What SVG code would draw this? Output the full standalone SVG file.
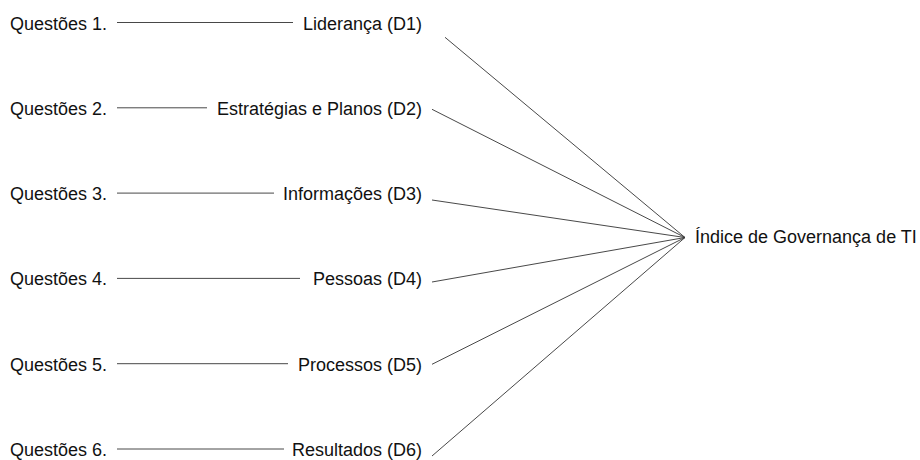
<svg xmlns="http://www.w3.org/2000/svg" width="920" height="460" viewBox="0 0 920 460">
<style>
text{font-family:"Liberation Sans",Arial,sans-serif;font-size:18px;fill:#111}
.l{text-anchor:end}
.c line{stroke:#333;stroke-width:0.9;fill:none}
</style>
<rect width="920" height="460" fill="#fff"/>
<g id="q1"><text x="10" y="29.5">Questões 1.</text></g>
<g id="q2"><text x="10" y="114.8">Questões 2.</text></g>
<g id="q3"><text x="10" y="200.1">Questões 3.</text></g>
<g id="q4"><text x="10" y="285.4">Questões 4.</text></g>
<g id="q5"><text x="10" y="370.7">Questões 5.</text></g>
<g id="q6"><text x="10" y="456">Questões 6.</text></g>
<g id="d1"><text class="l" x="422" y="29.5">Liderança (D1)</text></g>
<g id="d2"><text class="l" x="422" y="114.8">Estratégias e Planos (D2)</text></g>
<g id="d3"><text class="l" x="422" y="200.1">Informações (D3)</text></g>
<g id="d4"><text class="l" x="422" y="285.4">Pessoas (D4)</text></g>
<g id="d5"><text class="l" x="422" y="370.7">Processos (D5)</text></g>
<g id="d6"><text class="l" x="422" y="456">Resultados (D6)</text></g>
<g id="igti"><text x="695" y="243">Índice de Governança de TI</text></g>
<g class="c" id="connectors">
<line x1="117" y1="22.5" x2="293" y2="22.5"/>
<line x1="117" y1="107.8" x2="207" y2="107.8"/>
<line x1="117" y1="193.1" x2="274" y2="193.1"/>
<line x1="117" y1="278.4" x2="300" y2="278.4"/>
<line x1="117" y1="363.7" x2="288" y2="363.7"/>
<line x1="117" y1="449" x2="284" y2="449"/>
<line x1="445" y1="37.3" x2="685" y2="237.5"/>
<line x1="432" y1="109.3" x2="685" y2="237.5"/>
<line x1="432" y1="200" x2="685" y2="237.5"/>
<line x1="432" y1="282" x2="685" y2="237.5"/>
<line x1="432" y1="364.3" x2="685" y2="237.5"/>
<line x1="432" y1="456" x2="685" y2="237.5"/>
</g>
</svg>
